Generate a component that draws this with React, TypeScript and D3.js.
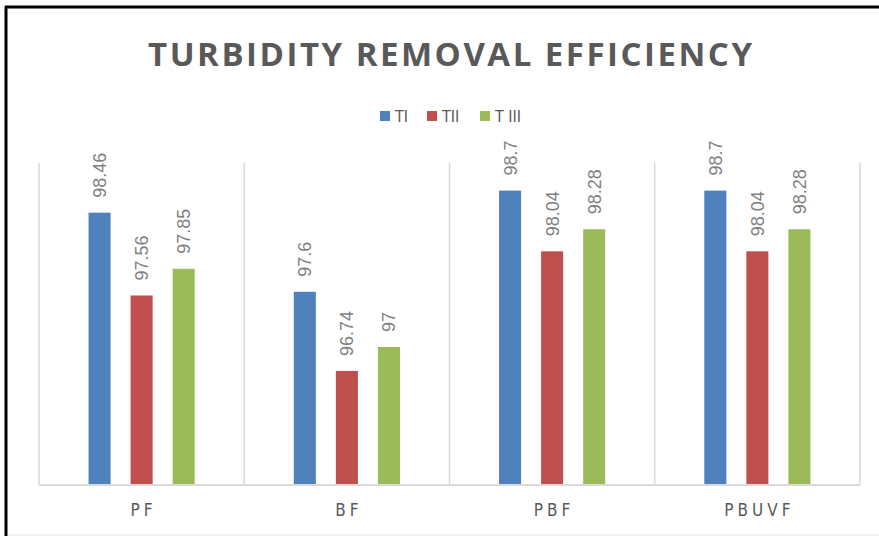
import React, { useRef, useEffect } from 'react';
import * as d3 from 'd3';

const categories = ['PF', 'BF', 'PBF', 'PBUVF'];
const seriesNames = ['TI', 'TII', 'T III'];
const tI = [98.46, 97.6, 98.7, 98.7];
const tII = [97.56, 96.74, 98.04, 98.04];
const tIII = [97.85, 97, 98.28, 98.28];
const colors = ['#4f81bd', '#c0504d', '#9bbb59'];

const width = 879;
const height = 536;

const App = () => {
    const svgRef = useRef<SVGSVGElement>(null);

    useEffect(() => {
        const svg = d3.select(svgRef.current);
        svg.selectAll('*').remove();

        const marginLeft = 39;
        const marginRight = 19;
        const marginTop = 163;
        const marginBottom = 51;

        const values = [tI, tII, tIII];
        const data = categories.map((c, i) => ({
            cat: c,
            vals: seriesNames.map((s, j) => ({ series: s, idx: j, value: values[j][i] })),
        }));

        const x0 = d3.scaleBand()
            .domain(categories)
            .range([marginLeft, width - marginRight])
            .padding(0);

        const x1 = d3.scaleBand()
            .domain(seriesNames)
            .range([0, x0.bandwidth()])
            .paddingInner(0.476)
            .paddingOuter(1.178);

        const y = d3.scaleLinear()
            .domain([95.5, 99])
            .range([height - marginBottom, marginTop]);

        // frame
        svg.append('line')
            .attr('x1', 6).attr('x2', 6).attr('y1', 6).attr('y2', height)
            .attr('stroke', '#000').attr('stroke-width', 3);
        svg.append('line')
            .attr('x1', 5).attr('x2', width).attr('y1', 7).attr('y2', 7)
            .attr('stroke', '#000').attr('stroke-width', 3);
        svg.append('line')
            .attr('x1', 8).attr('x2', width).attr('y1', 535).attr('y2', 535)
            .attr('stroke', '#e6e6e6').attr('stroke-width', 1);

        // title
        svg.append('text')
            .attr('x', 450)
            .attr('y', 66)
            .attr('text-anchor', 'middle')
            .attr('textLength', 604)
            .attr('lengthAdjust', 'spacing')
            .attr('font-family', '"Open Sans", "Noto Sans", sans-serif')
            .attr('font-weight', 700)
            .attr('font-size', 33)
            .attr('fill', '#595959')
            .text('TURBIDITY REMOVAL EFFICIENCY');

        // legend
        const legendX = [380, 427, 480];
        const legend = svg.append('g');
        seriesNames.forEach((s, i) => {
            legend.append('rect')
                .attr('x', legendX[i]).attr('y', 111)
                .attr('width', 10).attr('height', 10)
                .attr('fill', colors[i]);
            legend.append('text')
                .attr('x', legendX[i] + 15).attr('y', 122)
                .attr('font-family', '"Liberation Sans Narrow", "DejaVu Sans Condensed", sans-serif')
                .attr('font-size', 16)
                .attr('fill', '#595959')
                .text(s);
        });

        // vertical gridlines between categories
        const edges = categories.map(c => x0(c)!).concat([x0(categories[categories.length - 1])! + x0.bandwidth()]);
        svg.append('g')
            .selectAll('line')
            .data(edges)
            .join('line')
            .attr('x1', d => d).attr('x2', d => d)
            .attr('y1', marginTop).attr('y2', height - marginBottom)
            .attr('stroke', '#d9d9d9').attr('stroke-width', 1.5);

        // bars
        const groups = svg.append('g')
            .selectAll('g')
            .data(data)
            .join('g')
            .attr('transform', d => `translate(${x0(d.cat)},0)`);

        groups.selectAll('rect')
            .data(d => d.vals)
            .join('rect')
            .attr('x', d => x1(d.series)!)
            .attr('y', d => y(d.value))
            .attr('width', x1.bandwidth())
            .attr('height', d => y(95.5) - y(d.value))
            .attr('fill', d => colors[d.idx]);

        groups.selectAll('text')
            .data(d => d.vals)
            .join('text')
            .attr('transform', d => `translate(${x1(d.series)! + x1.bandwidth() / 2 + 6.5},${y(d.value) - 15}) rotate(-90)`)
            .attr('font-family', '"Liberation Sans", Arial, sans-serif')
            .attr('font-size', 18)
            .attr('fill', '#7f7f7f')
            .text(d => String(d.value));

        // baseline axis
        svg.append('line')
            .attr('x1', marginLeft).attr('x2', width - marginRight)
            .attr('y1', y(95.5)).attr('y2', y(95.5))
            .attr('stroke', '#d9d9d9').attr('stroke-width', 2);

        // category labels
        svg.append('g')
            .selectAll('text')
            .data(categories)
            .join('text')
            .attr('x', d => x0(d)! + x0.bandwidth() / 2 + 2)
            .attr('y', 516)
            .attr('text-anchor', 'middle')
            .attr('font-family', '"Liberation Sans Narrow", "DejaVu Sans Condensed", sans-serif')
            .attr('font-size', 17)
            .attr('letter-spacing', 4)
            .attr('fill', '#595959')
            .text(d => d);
    }, []);

    return (
        <svg
            ref={svgRef}
            width={width}
            height={height}
            style={{ position: 'absolute', left: 0, top: 0, background: '#fff' }}
        />
    );
};

export default App;
